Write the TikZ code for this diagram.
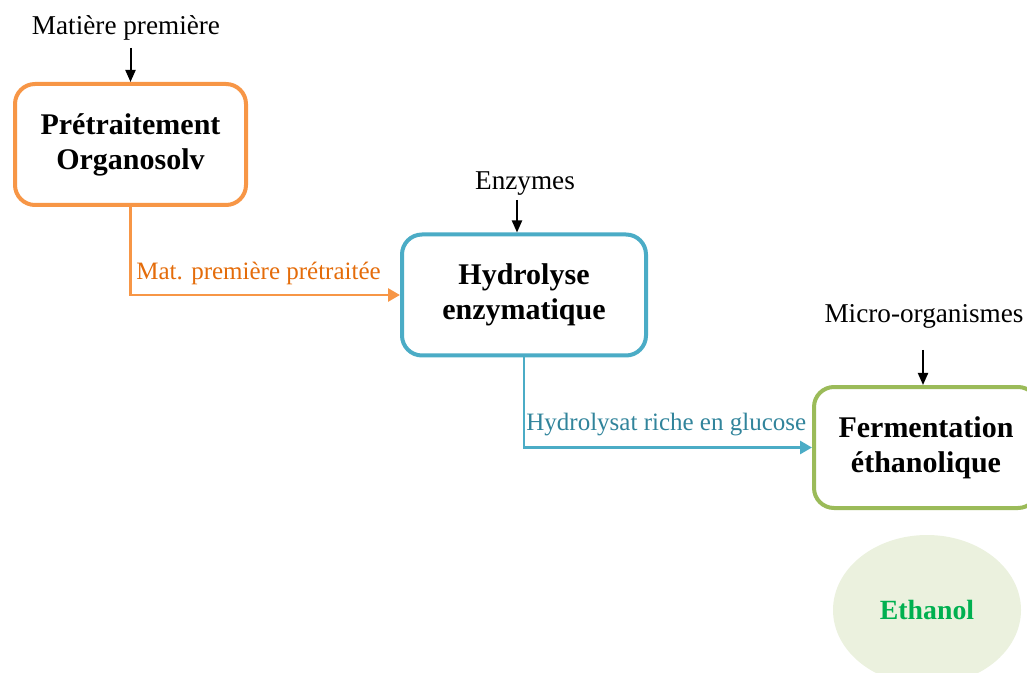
\documentclass[tikz,border=0pt]{standalone}
\usepackage{fontspec}
\setmainfont{Liberation Serif}
\usetikzlibrary{arrows.meta,shapes.geometric}

\definecolor{orangeline}{HTML}{F79646}
\definecolor{orangetext}{HTML}{E46C0A}
\definecolor{blueline}{HTML}{4BACC6}
\definecolor{bluetext}{HTML}{31849B}
\definecolor{greenline}{HTML}{9BBB59}
\definecolor{ethgreen}{HTML}{00B050}
\definecolor{ethfill}{HTML}{EBF1DE}

\tikzset{
  procbox/.style={draw=#1, line width=2pt, rounded corners=10pt, fill=white,
    minimum height=60.5pt, align=center,
    font=\fontsize{15}{17.5}\selectfont\bfseries},
  intext/.style={font=\fontsize{13.6}{16}\selectfont, inner sep=0pt},
  flowtext/.style={font=\fontsize{12.5}{15}\selectfont, inner sep=0pt},
  inarrow/.style={draw=black, line width=1pt, -{Triangle[length=6pt,width=5pt]}},
  flowarrow/.style={draw=#1, line width=1.4pt, -{Triangle[length=6pt,width=6.5pt]}}
}

\begin{document}
\begin{tikzpicture}[x=0.5pt,y=-0.5pt]
        \useasboundingbox (0,0) rectangle (1027,673);
        \clip (0,0) rectangle (1027,673);

        % boxes
        \node[procbox=orangeline, minimum width=115.5pt] (pretrait) at (130.5,144.5) {Prétraitement\\Organosolv};
        \node[procbox=blueline, minimum width=122pt] (hydro) at (524,295) {Hydrolyse\\enzymatique};
        \node[procbox=greenline, minimum width=112pt] (ferment) at (926,447.5) {Fermentation\\éthanolique};
        \node[ellipse, fill=ethfill, minimum width=94pt, minimum height=75pt,
              text=ethgreen, font=\fontsize{13.9}{16}\selectfont\bfseries] (ethanol) at (927,610) {Ethanol};

        % inputs
        \node[intext, anchor=base] (matiere) at (126,35) {Matière première};
        \node[intext, anchor=base] (enzymes) at (525,190) {Enzymes};
        \node[intext, anchor=base] (micro) at (924,323) {Micro-organismes};

        \coordinate (matin) at (130.5,48);
        \coordinate (enzin) at (517,200);
        \coordinate (microin) at (923,350);
        \draw[inarrow] (matin) -- (pretrait.north);
        \draw[inarrow] (enzin) -- (enzin |- hydro.north);
        \draw[inarrow] (microin) -- (microin |- ferment.north);

        % flows
        \draw[flowarrow=orangeline] (pretrait.south) |- (hydro.west);
        \draw[flowarrow=blueline] (hydro.south) |- (ferment.west);
        \node[flowtext, text=orangetext, anchor=base west] (matpre) at (136,280) {Mat. première prétraitée};
        \node[flowtext, text=bluetext, anchor=base west] (hydrolysat) at (526,430) {Hydrolysat riche en glucose};
\end{tikzpicture}
\end{document}
